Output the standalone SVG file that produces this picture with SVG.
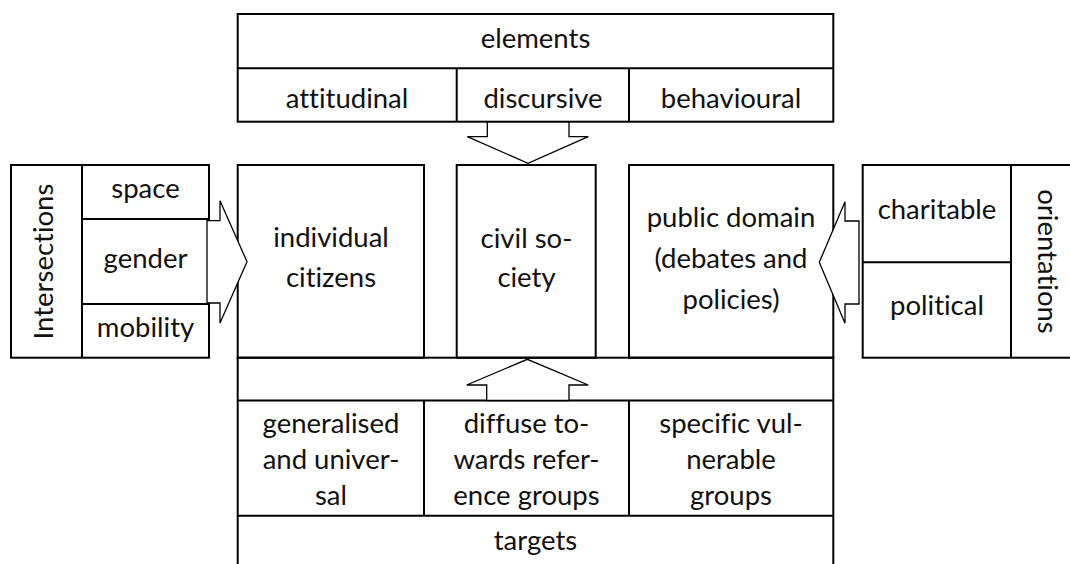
<svg xmlns="http://www.w3.org/2000/svg" width="1070" height="564" viewBox="0 0 1070 564">
<style>
.b{fill:none;stroke:#000;stroke-width:2}
.l{stroke:#000;stroke-width:2;fill:none}
.a{fill:#fff;stroke:#000;stroke-width:1.3;stroke-linejoin:miter}
text{font-family:Lato,"Open Sans",sans-serif;font-size:27.5px;fill:#111;text-anchor:middle;font-variant-ligatures:none}
</style>
<rect width="1070" height="564" fill="#fff"/>
<g id="elements">
<rect class="b" x="237.7" y="14" width="595.6" height="107.7"/>
<line class="l" x1="237.7" y1="68.3" x2="833.3" y2="68.3"/>
<line class="l" x1="456.7" y1="68.3" x2="456.7" y2="121.7"/>
<line class="l" x1="629" y1="68.3" x2="629" y2="121.7"/>
<text x="535.5" y="48">elements</text>
<text x="347" y="108">attitudinal</text>
<text x="543" y="108">discursive</text>
<text x="731" y="108">behavioural</text>
</g>
<g id="targets">
<rect class="b" x="237.7" y="357.7" width="595.6" height="210"/>
<line class="l" x1="237.7" y1="400.5" x2="833.3" y2="400.5"/>
<line class="l" x1="237.7" y1="515.7" x2="833.3" y2="515.7"/>
<line class="l" x1="424" y1="400.5" x2="424" y2="515.7"/>
<line class="l" x1="629" y1="400.5" x2="629" y2="515.7"/>
<text x="331" y="433">generalised</text>
<text x="331" y="469">and univer-</text>
<text x="331" y="505">sal</text>
<text x="526.5" y="433">diffuse to-</text>
<text x="526.5" y="469">wards refer-</text>
<text x="526.5" y="505">ence groups</text>
<text x="731" y="433">specific vul-</text>
<text x="731" y="469">nerable</text>
<text x="731" y="505">groups</text>
<text x="535.5" y="550">targets</text>
</g>
<g id="individual">
<rect class="b" x="237.7" y="165" width="186.3" height="192.7"/>
<text x="331" y="247">individual</text>
<text x="331" y="287">citizens</text>
</g>
<g id="civil">
<rect class="b" x="456.7" y="165" width="139" height="192.7"/>
<text x="526.5" y="247.5">civil so-</text>
<text x="526.5" y="287.3">ciety</text>
</g>
<g id="public">
<rect class="b" x="629" y="165" width="204.3" height="192.7"/>
<text x="731" y="226.7">public domain</text>
<text x="731" y="268">(debates and</text>
<text x="731" y="309">policies)</text>
</g>
<g id="intersections">
<rect class="b" x="11" y="165" width="198" height="192.7"/>
<line class="l" x1="82" y1="165" x2="82" y2="357.7"/>
<line class="l" x1="82" y1="219" x2="209" y2="219"/>
<line class="l" x1="82" y1="304" x2="209" y2="304"/>
<text transform="translate(53,261.5) rotate(-90)">Intersections</text>
<text x="145.5" y="198">space</text>
<text x="145.5" y="268">gender</text>
<text x="145.5" y="337">mobility</text>
</g>
<g id="orientations">
<rect class="b" x="862.7" y="165" width="220" height="192.7"/>
<line class="l" x1="1011" y1="165" x2="1011" y2="357.7"/>
<line class="l" x1="862.7" y1="262.3" x2="1011" y2="262.3"/>
<text transform="translate(1038,261.5) rotate(90)">orientations</text>
<text x="937" y="218.5">charitable</text>
<text x="937" y="315">political</text>
</g>
<g id="connectors">
<polygon class="a" points="207,220.7 220,220.7 220,200.7 247,261.7 220,323 220,303 207,303"/>
<polygon class="a" points="487.3,122 569,122 569,136.7 588.3,136.7 528,163.3 467.3,136.7 487.3,136.7"/>
<polygon class="a" points="486.7,400.5 569,400.5 569,385 588.3,385 527.3,359.3 466.7,385 486.7,385"/>
<polygon class="a" points="859,221 845,221 845,201.7 819.3,262.3 845,323.3 845,304 859,304"/>
</g>
</svg>
